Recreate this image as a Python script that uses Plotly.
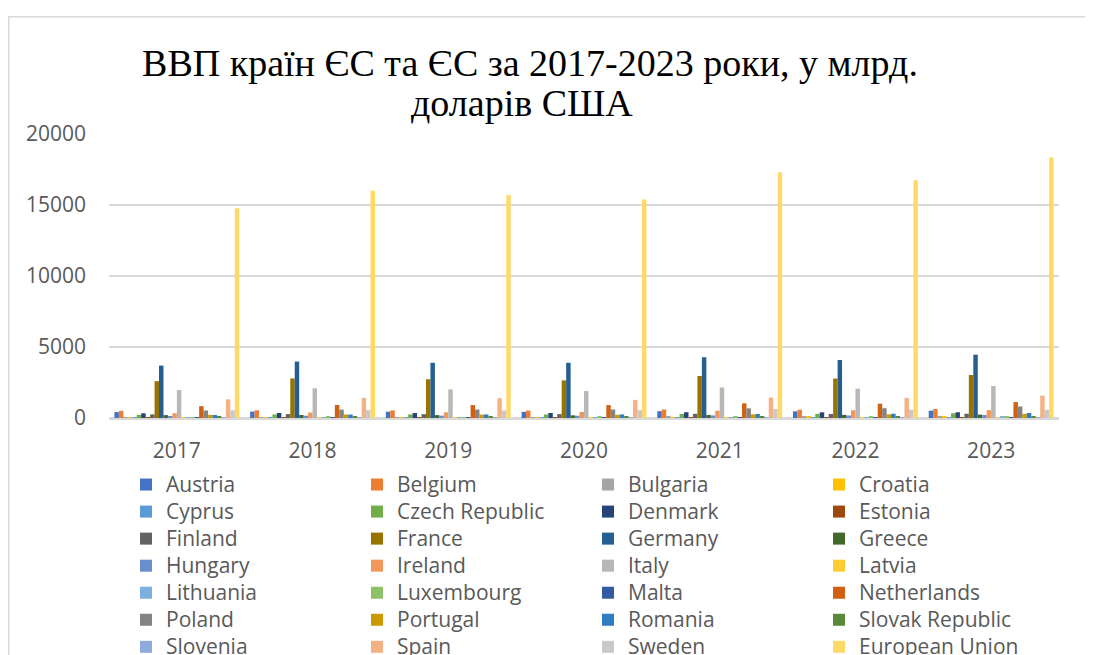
import plotly.graph_objects as go

years = ["2017", "2018", "2019", "2020", "2021", "2022", "2023"]

austria = [417, 455, 445, 435, 480, 471, 516]
belgium = [502, 543, 535, 525, 600, 583, 632]
bulgaria = [59, 66, 68, 70, 84, 90, 101]
croatia = [56, 62, 62, 58, 69, 72, 82]
cyprus = [23, 26, 26, 25, 29, 30, 33]
czech_republic = [219, 249, 253, 246, 282, 291, 330]
denmark = [332, 357, 348, 355, 408, 400, 404]
estonia = [27, 31, 31, 31, 37, 38, 41]
finland = [255, 275, 268, 271, 297, 282, 300]
france = [2595, 2790, 2729, 2647, 2958, 2780, 3031]
germany = [3690, 3975, 3889, 3887, 4278, 4082, 4457]
greece = [203, 212, 205, 189, 215, 219, 243]
hungary = [143, 160, 164, 158, 182, 178, 212]
ireland = [337, 387, 400, 426, 513, 545, 551]
italy = [1961, 2092, 2011, 1897, 2155, 2066, 2255]
latvia = [31, 34, 34, 34, 39, 41, 43]
lithuania = [47, 54, 55, 57, 66, 70, 79]
luxembourg = [66, 71, 70, 73, 85, 82, 86]
malta = [13, 15, 16, 15, 17, 18, 20]
netherlands = [833, 914, 910, 910, 1030, 1010, 1120]
poland = [526, 588, 597, 599, 680, 690, 811]
portugal = [222, 242, 240, 229, 255, 255, 287]
romania = [214, 243, 251, 252, 286, 301, 351]
slovak_republic = [96, 106, 105, 107, 119, 116, 132]
slovenia = [49, 54, 54, 54, 62, 60, 68]
spain = [1313, 1421, 1394, 1277, 1446, 1418, 1580]
sweden = [541, 555, 533, 548, 641, 585, 584]
european_union = [14770, 16000, 15700, 15390, 17300, 16750, 18350]

series = [
    ("Austria", austria, "#4472C4"),
    ("Belgium", belgium, "#ED7D31"),
    ("Bulgaria", bulgaria, "#A5A5A5"),
    ("Croatia", croatia, "#FFC000"),
    ("Cyprus", cyprus, "#5B9BD5"),
    ("Czech Republic", czech_republic, "#70AD47"),
    ("Denmark", denmark, "#264478"),
    ("Estonia", estonia, "#9E480E"),
    ("Finland", finland, "#636363"),
    ("France", france, "#997300"),
    ("Germany", germany, "#255E91"),
    ("Greece", greece, "#43682B"),
    ("Hungary", hungary, "#698ED0"),
    ("Ireland", ireland, "#F1975A"),
    ("Italy", italy, "#B7B7B7"),
    ("Latvia", latvia, "#FFCD33"),
    ("Lithuania", lithuania, "#7CAFDD"),
    ("Luxembourg", luxembourg, "#8CC168"),
    ("Malta", malta, "#335AA1"),
    ("Netherlands", netherlands, "#D26012"),
    ("Poland", poland, "#848484"),
    ("Portugal", portugal, "#CC9A00"),
    ("Romania", romania, "#327DC2"),
    ("Slovak Republic", slovak_republic, "#5A8A39"),
    ("Slovenia", slovenia, "#8FAADC"),
    ("Spain", spain, "#F4B183"),
    ("Sweden", sweden, "#C9C9C9"),
    ("European Union", european_union, "#FFD966"),
]

title_line1 = "ВВП країн ЄС та ЄС за 2017-2023 роки, у млрд."
title_line2 = "доларів США"

# the page body adds an 8px offset; work in screen coordinates and shift
OFF = 8
W, H = 1093 - OFF, 655 - OFF
plot_left, plot_right, plot_top, plot_bottom = 109 - OFF, 1059 - OFF, 134 - OFF, 418 - OFF
ml, mr, mt, mb = plot_left, W - plot_right, plot_top, H - plot_bottom
pw = plot_right - plot_left
ph = plot_bottom - plot_top


def px_x(p):
    return (p - OFF - ml) / pw


def px_y(p):
    return (plot_bottom - (p - OFF)) / ph


label_font = dict(family="Open Sans", size=21, color="#595959")

fig = go.Figure()
for name, vals, color in series:
    fig.add_trace(go.Bar(
        x=years, y=vals,
        name='<span style="font-size:21px">' + name + '</span>',
        marker=dict(color=color, line=dict(width=0))))

fig.update_layout(
    width=W, height=H,
    margin=dict(l=ml, r=mr, t=mt, b=mb, autoexpand=False),
    paper_bgcolor="white", plot_bgcolor="white",
    barmode="group", bargap=0.08, bargroupgap=0,
    title=dict(text=title_line1, x=(530 - OFF) / W, xanchor="center",
               y=1 - (63 - OFF) / H, yanchor="middle", yref="container",
               font=dict(family="Liberation Serif", size=38, color="black")),
    annotations=[dict(text=title_line2, xref="paper", yref="paper",
                      x=px_x(522), y=px_y(103), xanchor="center",
                      yanchor="middle", showarrow=False,
                      font=dict(family="Liberation Serif", size=38,
                                color="black"))],
    xaxis=dict(showline=True, linecolor="#D9D9D9", linewidth=2,
               tickfont=label_font, ticks="", ticklabelstandoff=13,
               showgrid=False),
    yaxis=dict(range=[0, 20000], dtick=5000, tickformat="d",
               gridcolor="#D9D9D9", gridwidth=2,
               zeroline=True, zerolinecolor="#D9D9D9", zerolinewidth=2,
               tickfont=label_font, ticks="", ticklabelstandoff=22,
               showline=False),
    legend=dict(orientation="h", x=px_x(126), xanchor="left",
                y=px_y(466), yanchor="top",
                entrywidth=186, entrywidthmode="pixels",
                font=dict(family="Open Sans", size=18.5, color="#595959"),
                traceorder="normal", bgcolor="rgba(0,0,0,0)"),
    showlegend=True,
    shapes=[dict(type="rect", xref="paper", yref="paper",
                 x0=px_x(8.8), x1=px_x(1300), y0=px_y(16.8), y1=px_y(1000),
                 line=dict(color="#D9D9D9", width=1.5), layer="below")],
)

fig.write_html("out.html")
